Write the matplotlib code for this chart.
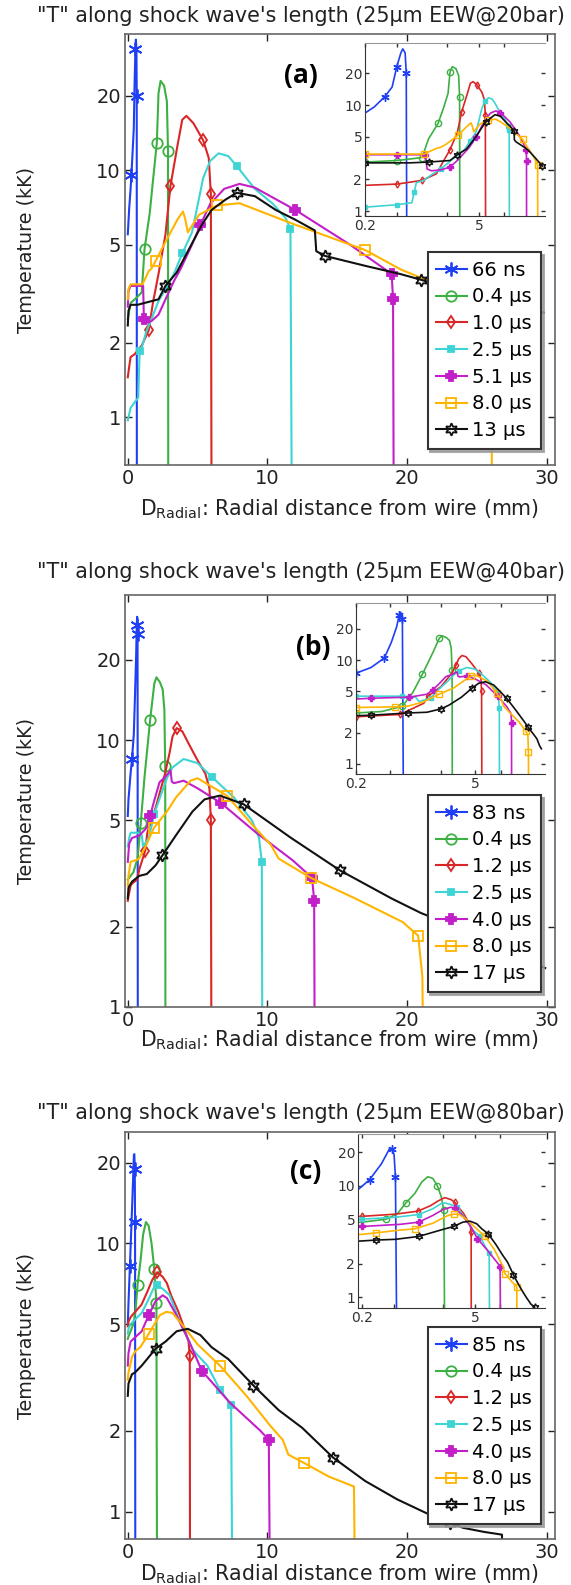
import matplotlib
matplotlib.use('Agg')
import matplotlib.pyplot as plt
from matplotlib.ticker import NullLocator

# ---------------- data ----------------
titles = ['"T" along shock wave\'s length (25µm EEW@20bar)',
          '"T" along shock wave\'s length (25µm EEW@40bar)',
          '"T" along shock wave\'s length (25µm EEW@80bar)']
tags = ['(a)', '(b)', '(c)']

a_labels = ['66 ns', '0.4 µs', '1.0 µs', '2.5 µs', '5.1 µs', '8.0 µs', '13 µs']
b_labels = ['83 ns', '0.4 µs', '1.2 µs', '2.5 µs', '4.0 µs', '8.0 µs', '17 µs']
c_labels = ['85 ns', '0.4 µs', '1.2 µs', '2.5 µs', '4.0 µs', '8.0 µs', '17 µs']

# radial distance (mm) / temperature (kK), one list per time step
a_dist = [
    [0, 0.1, 0.2, 0.26, 0.35, 0.43, 0.49, 0.55, 0.58, 0.62, 0.64, 0.65],
    [0, 0.2, 0.5, 1.0, 1.2, 1.57, 1.84, 2.08, 2.2, 2.35, 2.6, 2.8, 2.88, 2.9],
    [0, 0.1, 0.2, 0.5, 1.0, 1.5, 1.8, 2.2, 2.7, 3.05, 3.55, 3.9, 4.2, 4.7, 5.4, 5.8, 5.95, 6.0],
    [0, 0.2, 0.5, 0.75, 0.8, 0.85, 1.05, 1.3, 1.7, 2.2, 3.3, 3.9, 4.6, 5.4, 5.9, 6.5, 7.2, 7.8,
     9.1, 10.4, 11.3, 11.65, 11.75],
    [0, 0.05, 0.2, 0.5, 1.1, 1.15, 1.3, 1.7, 2.2, 2.7, 3.3, 3.8, 4.6, 5.2, 5.9, 6.9, 8.0, 9.1,
     12, 15.9, 18.9, 19.0, 19.05],
    [0, 0.05, 0.2, 0.8, 1.05, 1.5, 1.7, 2.0, 2.76, 3.55, 3.95, 4.1, 4.3, 5.1, 6.4, 8.0, 9.4,
     11.7, 17, 19.6, 23, 25.5, 26.0, 26.1],
    [0, 0.05, 0.2, 0.7, 1.2, 2.2, 2.7, 3.5, 4.6, 5.3, 6.0, 7.0, 7.8, 9.1, 10.6, 12.0, 13.4,
     13.5, 14.1, 17, 19.5, 21, 25, 29.8],
]
a_temp = [
    [5.5, 7.0, 8.4, 9.6, 12, 14.8, 23, 31, 33.8, 31, 20, 0.4],
    [2.5, 2.9, 3.0, 3.2, 4.8, 6.7, 9.5, 12.9, 20.5, 23, 22, 19, 12, 0.4],
    [1.45, 1.6, 1.75, 1.8, 1.95, 2.25, 2.9, 3.8, 5.5, 8.6, 12.5, 16, 16.6, 15.5, 13.2, 11.2, 8, 0.4],
    [0.97, 1.09, 1.15, 1.2, 1.5, 1.85, 1.95, 2.2, 2.5, 2.95, 3.8, 4.6, 5.6, 9.3, 10.9, 11.7, 11.4,
     10.4, 8.4, 7.3, 6.4, 5.8, 0.4],
    [2.8, 3.25, 3.4, 3.4, 3.4, 2.5, 2.4, 2.45, 2.6, 3.0, 3.55, 4.0, 5.0, 6.0, 7.3, 8.4, 8.8, 8.5,
     6.9, 5.0, 3.8, 3.0, 0.4],
    [3.0, 3.3, 3.45, 3.45, 3.45, 3.9, 4.0, 4.3, 5.2, 6.3, 6.8, 6.4, 5.6, 6.6, 7.2, 7.35, 6.85,
     6.1, 4.75, 3.95, 3.3, 2.8, 2.7, 0.4],
    [2.35, 2.7, 2.85, 2.85, 2.9, 3.0, 3.4, 3.85, 5.05, 6.0, 6.9, 7.6, 8.1, 7.85, 6.9, 6.3, 5.7,
     4.7, 4.5, 4.1, 3.8, 3.6, 3.1, 2.65],
]

b_dist = [
    [0, 0.05, 0.2, 0.3, 0.43, 0.52, 0.6, 0.64, 0.67, 0.7, 0.72],
    [0, 0.2, 0.4, 0.7, 0.93, 1.2, 1.6, 1.9, 2.05, 2.3, 2.5, 2.62, 2.68, 2.7],
    [0, 0.05, 0.2, 0.3, 0.66, 0.84, 1.25, 1.4, 2.0, 2.67, 3.0, 3.2, 3.5, 3.9, 4.5, 5.0, 5.55,
     5.85, 5.95, 6.0],
    [0, 0.1, 0.2, 0.7, 1.0, 1.1, 1.5, 1.9, 2.4, 2.8, 3.2, 4.0, 5.0, 6.0, 7.6, 8.9, 9.4, 9.6, 9.65],
    [0, 0.1, 0.3, 0.84, 1.36, 1.6, 1.88, 2.27, 2.7, 3.06, 3.15, 3.3, 4.0, 5.0, 6.7, 9.2, 11.8,
     13.2, 13.35, 13.4],
    [0, 0.05, 0.2, 0.58, 0.8, 1.23, 1.88, 2.8, 3.45, 4.5, 5.0, 6.0, 7.1, 8.95, 10.25, 10.8,
     13.1, 16.3, 19.7, 20.8, 21.1, 21.2],
    [0, 0.05, 0.3, 0.82, 1.36, 2.0, 2.48, 3.45, 4.63, 5.5, 6.6, 8.3, 11.7, 15.2, 18.9, 21, 24,
     26.5, 28.5, 29.9],
]
b_temp = [
    [5.2, 6.0, 7.5, 8.5, 10.5, 14.9, 21, 27, 29, 25, 0.4],
    [3.0, 3.1, 3.2, 3.6, 4.9, 7.3, 11.9, 16.3, 17.2, 16.5, 15.5, 13, 8, 0.4],
    [2.5, 2.6, 2.85, 2.9, 3.0, 3.3, 3.85, 4.5, 5.6, 7.5, 9.0, 10.3, 11.1, 10.8, 9.4, 8.4, 7.5,
     6.6, 5.0, 0.4],
    [4.0, 4.3, 4.5, 4.5, 4.4, 4.0, 4.3, 5.3, 6.3, 7.2, 7.9, 8.5, 8.2, 7.3, 6.1, 5.0, 4.3, 3.5, 0.4],
    [3.5, 4.1, 4.3, 4.4, 4.7, 5.2, 5.9, 6.95, 7.3, 7.7, 7.0, 6.9, 7.05, 6.6, 5.8, 4.5, 3.55,
     3.05, 2.5, 0.4],
    [2.85, 3.1, 3.5, 3.55, 3.6, 3.95, 4.7, 5.4, 6.1, 7.05, 7.2, 6.7, 6.2, 4.8, 4.05, 3.6, 3.05,
     2.55, 2.08, 1.85, 1.3, 0.4],
    [2.55, 2.8, 2.95, 3.1, 3.15, 3.4, 3.7, 4.4, 5.4, 6.0, 6.2, 5.75, 4.3, 3.25, 2.55, 2.25, 1.95,
     1.75, 1.5, 1.4],
]

c_dist = [
    [0, 0.05, 0.15, 0.25, 0.35, 0.44, 0.47, 0.5, 0.52, 0.54],
    [0, 0.05, 0.2, 0.4, 0.55, 0.7, 0.9, 1.1, 1.3, 1.5, 1.7, 1.9, 2.05, 2.1],
    [0, 0.05, 0.2, 0.52, 0.98, 1.4, 1.75, 2.1, 2.5, 2.8, 3.1, 3.6, 4.0, 4.35, 4.44, 4.46],
    [0, 0.05, 0.2, 0.52, 1.0, 1.5, 1.9, 2.1, 2.6, 3.0, 3.6, 4.67, 5.7, 6.6, 7.4, 7.5],
    [0, 0.05, 0.2, 0.6, 1.0, 1.5, 2.0, 2.5, 2.8, 3.4, 4.4, 5.3, 7.3, 9.5, 10.1, 10.2],
    [0, 0.05, 0.3, 0.55, 0.9, 1.5, 2.3, 2.75, 3.2, 4.0, 5.0, 6.6, 8.5, 10.2, 11.1, 11.5, 12.6,
     14.4, 16.2, 16.3],
    [0, 0.05, 0.3, 0.52, 1.0, 2.0, 2.7, 3.5, 4.3, 5.2, 6.0, 7.2, 9.0, 10.8, 12.5, 14.7, 17,
     19.3, 21.5, 23.1, 24.0, 25.5, 26.8, 26.9],
]
c_temp = [
    [5.0, 6.0, 8.2, 11.3, 15.7, 21.4, 21.5, 19, 12, 0.4],
    [4.4, 4.5, 4.7, 5.0, 5.6, 7.0, 8.5, 10.8, 12.0, 11.6, 10.0, 8.0, 6.0, 0.4],
    [4.9, 5.1, 5.3, 5.55, 5.9, 6.6, 7.3, 7.8, 7.5, 7.1, 6.4, 5.6, 4.9, 4.3, 3.8, 0.4],
    [4.6, 4.8, 5.0, 5.2, 5.5, 6.2, 6.9, 7.0, 6.7, 6.4, 5.3, 4.0, 3.5, 2.85, 2.5, 0.4],
    [3.5, 3.9, 4.3, 4.5, 4.7, 5.4, 6.1, 6.4, 6.25, 5.5, 4.3, 3.35, 2.55, 2.0, 1.85, 0.4],
    [3.1, 3.3, 3.77, 3.97, 4.1, 4.6, 5.4, 5.55, 5.5, 4.9, 4.2, 3.5, 2.7, 2.09, 1.85, 1.63,
     1.52, 1.35, 1.24, 0.4],
    [2.7, 3.0, 3.25, 3.3, 3.5, 4.05, 4.3, 4.7, 4.8, 4.55, 4.1, 3.7, 2.95, 2.39, 2.05, 1.59,
     1.3, 1.11, 0.98, 0.91, 0.87, 0.84, 0.82, 0.4],
]

main_ticks_x = [0, 10, 20, 30]
main_ticks_y = [1, 2, 5, 10, 20]
inset_ticks_x = [0.2, 0.5, 2, 5, 10]
inset_ticklabels_x = ['0.2', '', '', '5', '']
inset_ticks_y = [1, 2, 5, 10, 20]

# ---------------- style / layout ----------------
colors = ['#1f3ff5', '#3cb043', '#d92626', '#3fd4d4', '#c21fc8', '#ffb400', '#111111']
markers = [(6, 2, 0), 'o', 'd', 's', 'P', 's', (6, 1, 0)]
hollow = [False, True, True, False, False, True, True]
msize = [10, 7.5, 6, 4.5, 6.5, 7.5, 9]

W, H = 571, 1585


def box(l, t, r, b):
    return [l / W, 1 - b / H, (r - l) / W, (b - t) / H]


main_box = [(125, 34, 555, 465), (125, 595, 555, 1007), (125, 1132, 555, 1539)]
inset_box = [(365, 43, 545, 216), (356, 603, 545, 774), (358, 1134, 545, 1308)]
main_ylim = [(0.64, 35.6), (1.0, 35.0), (0.79, 26.0)]
inset_ylim = [(0.9, 38.4), (0.8, 35.6), (0.8, 29.0)]
inset_xlim = [(0.2, 32), (0.21, 33), (0.18, 36)]
title_y = [15.5, 572, 1113]
xlabel_y = [509, 1040, 1574]
tag_xy = [(301, 76), (313, 648), (306, 1172)]
legend_br = [(541, 449), (541, 992), (541, 1524)]

fig = plt.figure(figsize=(W / 100, H / 100), dpi=100)

panels = [(a_dist, a_temp, a_labels), (b_dist, b_temp, b_labels), (c_dist, c_temp, c_labels)]

for k, (dist, temp, labels) in enumerate(panels):
    ax = fig.add_axes(box(*main_box[k]))
    ax.set_yscale('log')
    handles = []
    for i in range(7):
        mfc = 'none' if hollow[i] else colors[i]
        ln, = ax.plot(dist[i], temp[i], color=colors[i], lw=1.5, marker=markers[i],
                      ms=msize[i], mfc=mfc, mec=colors[i], mew=1.3,
                      markevery=(0.1, 0.2), label=labels[i])
        handles.append(ln)
    ax.set_xlim(-0.2, 30.6)
    ax.set_ylim(*main_ylim[k])
    ax.set_xticks(main_ticks_x)
    ax.set_yticks(main_ticks_y)
    ax.set_yticklabels([str(v) for v in main_ticks_y])
    ax.yaxis.set_minor_locator(NullLocator())
    ax.tick_params(direction='in', length=5, width=1, top=True, right=True,
                   labelsize=14, pad=3, colors='#222')
    for s in ax.spines.values():
        s.set_color('#666')
        s.set_linewidth(1.2)

    l, t, r, b = main_box[k]
    fig.text(27 / W, 1 - (t + b) / 2 / H, 'Temperature (kK)', rotation=90,
             ha='center', va='center', fontsize=13.8, color='#222')
    fig.text((l + r) / 2 / W, 1 - xlabel_y[k] / H,
             r'D$_{\mathrm{Radial}}$: Radial distance from wire (mm)',
             ha='center', va='center', fontsize=14.8, color='#222')
    fig.text(37 / W, 1 - title_y[k] / H, titles[k], ha='left', va='center',
             fontsize=14.9, color='#222')
    tx, ty = tag_xy[k]
    fig.text(tx / W, 1 - ty / H, tags[k], ha='center', va='center', fontsize=19,
             fontweight='bold', family='Open Sans')

    lx, ly = legend_br[k]
    leg = ax.legend(handles=handles, loc='lower right', bbox_to_anchor=(lx / W, 1 - ly / H),
                    bbox_transform=fig.transFigure, borderaxespad=0, fontsize=14,
                    labelspacing=0.4, handlelength=1.55, handletextpad=0.3,
                    borderpad=0.45, fancybox=False, framealpha=1, edgecolor='#333',
                    shadow={'color': '#999', 'alpha': 0.8})
    leg.get_frame().set_linewidth(1.5)

    # inset with log-log axes
    axi = fig.add_axes(box(*inset_box[k]))
    axi.set_xscale('log')
    axi.set_yscale('log')
    for i in range(7):
        mfc = 'none' if hollow[i] else colors[i]
        axi.plot(dist[i], temp[i], color=colors[i], lw=1.2, marker=markers[i],
                 ms=msize[i] * 0.6, mfc=mfc, mec=colors[i], mew=1.0,
                 markevery=(0.08, 0.16))
    axi.set_xlim(*inset_xlim[k])
    axi.set_ylim(*inset_ylim[k])
    axi.set_xticks(inset_ticks_x)
    axi.set_xticklabels(inset_ticklabels_x)
    axi.set_yticks(inset_ticks_y)
    axi.set_yticklabels([str(v) for v in inset_ticks_y])
    axi.xaxis.set_minor_locator(NullLocator())
    axi.yaxis.set_minor_locator(NullLocator())
    axi.tick_params(direction='in', length=3, width=1, top=True, right=True,
                    labelsize=10, pad=2, colors='#333')
    axi.spines['right'].set_visible(False)
    axi.spines['top'].set_color('#999')
    axi.spines['top'].set_linewidth(0.8)
    axi.spines['left'].set_color('#333')
    axi.spines['bottom'].set_color('#333')

fig.savefig('out.png', dpi=100)
